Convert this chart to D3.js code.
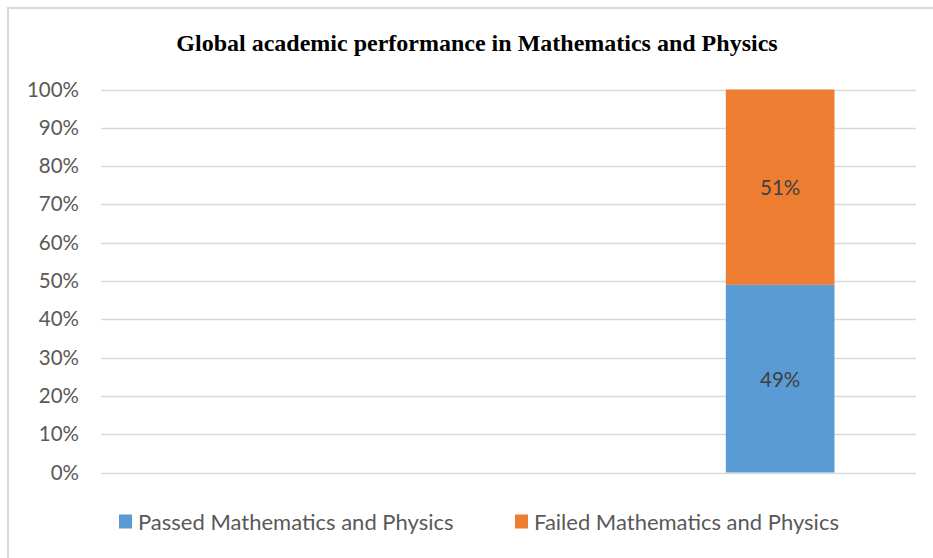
<!DOCTYPE html>
<html>
<head>
<meta charset="utf-8">
<script src="https://cdn.jsdelivr.net/npm/d3@7"></script>
<style>
  html, body { margin: 0; padding: 0; background: #fff; }
  svg { display: block; }
</style>
</head>
<body>
<svg id="chart" width="933" height="558"></svg>
<script>
// Chart data
const categories = ["1", "2", "3"];
const seriesNames = ["Passed Mathematics and Physics", "Failed Mathematics and Physics"];
const passed = [null, null, 49];
const failed = [null, null, 51];
const yTicks = [0, 10, 20, 30, 40, 50, 60, 70, 80, 90, 100];
const title = "Global academic performance in Mathematics and Physics";

const colors = ["#5b9bd5", "#ed7d31"];
const labelFont = "Lato, 'Open Sans', sans-serif";

const svg = d3.select("#chart");
const W = 933, H = 558;

// Outer chart frame (only left/top edges fall inside the view)
svg.append("rect")
  .attr("x", 8).attr("y", 8)
  .attr("width", W + 20).attr("height", H + 20)
  .attr("fill", "#fff")
  .attr("stroke", "#d9d9d9")
  .attr("stroke-width", 2);

const plot = { left: 101, right: 916, top: 89.5, bottom: 472.5 };

const x = d3.scaleBand()
  .domain(categories)
  .range([plot.left, plot.right])
  .paddingInner(0.6)
  .paddingOuter(0.3);

const y = d3.scaleLinear()
  .domain([0, 100])
  .range([plot.bottom, plot.top]);

// Gridlines
svg.append("g")
  .selectAll("line")
  .data(yTicks)
  .join("line")
  .attr("x1", plot.left).attr("x2", plot.right)
  .attr("y1", d => Math.round(y(d)) + 0.5)
  .attr("y2", d => Math.round(y(d)) + 0.5)
  .attr("stroke", "#d9d9d9")
  .attr("stroke-width", 1.5);

// Y axis labels
const yAxis = d3.axisLeft(y)
  .tickValues(yTicks)
  .tickFormat(d => d + "%")
  .tickSize(0)
  .tickPadding(0);

const yg = svg.append("g")
  .attr("transform", `translate(79,0)`)
  .call(yAxis);
yg.select(".domain").remove();
yg.selectAll("text")
  .attr("font-family", labelFont)
  .attr("font-size", 20.5)
  .attr("fill", "#595959");

// Stacked series
const rows = categories.map((c, i) => ({ cat: c, s0: passed[i], s1: failed[i] }));
const stack = d3.stack().keys(["s0", "s1"]).value((d, k) => d[k] || 0);
const stacked = stack(rows);

const barGroups = svg.append("g")
  .selectAll("g")
  .data(stacked)
  .join("g")
  .attr("fill", (d, i) => colors[i]);

barGroups.selectAll("rect")
  .data(d => d.filter(p => p[1] - p[0] > 0))
  .join("rect")
  .attr("x", d => x(d.data.cat))
  .attr("width", x.bandwidth())
  .attr("y", d => y(d[1]))
  .attr("height", d => y(d[0]) - y(d[1]));

// Data labels
barGroups.selectAll("text")
  .data(d => d.filter(p => p[1] - p[0] > 0))
  .join("text")
  .attr("x", d => x(d.data.cat) + x.bandwidth() / 2)
  .attr("y", d => y((d[0] + d[1]) / 2))
  .attr("text-anchor", "middle")
  .attr("dominant-baseline", "central")
  .attr("font-family", labelFont)
  .attr("font-size", 20.5)
  .attr("fill", "#404040")
  .text(d => Math.round(d[1] - d[0]) + "%");

// Title
svg.append("text")
  .attr("x", 477)
  .attr("y", 51)
  .attr("text-anchor", "middle")
  .attr("font-family", "'Liberation Serif', 'Times New Roman', serif")
  .attr("font-weight", "bold")
  .attr("font-size", 24)
  .attr("fill", "#000")
  .text(title);

// Legend
const legendX = [119, 515];
const legend = svg.append("g")
  .selectAll("g")
  .data(seriesNames)
  .join("g")
  .attr("transform", (d, i) => `translate(${legendX[i]},521.5)`);
legend.append("rect")
  .attr("x", 0).attr("y", -7)
  .attr("width", 13).attr("height", 14)
  .attr("fill", (d, i) => colors[i]);
legend.append("text")
  .attr("x", 19)
  .attr("y", 0)
  .attr("dominant-baseline", "central")
  .attr("font-family", labelFont)
  .attr("font-size", 22)
  .attr("fill", "#595959")
  .text(d => d);
</script>
</body>
</html>
